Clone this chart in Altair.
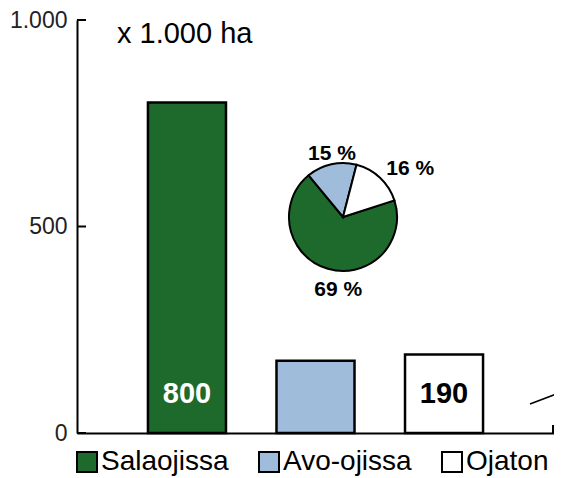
import math
import altair as alt
import pandas as pd

# ---- data ----
categories = ["Salaojissa", "Avo-ojissa", "Ojaton"]
area_1000ha = [800, 175, 190]
bar_labels = ["800", "", "190"]
shares_pct = [69, 15, 16]
share_labels = ["69 %", "15 %", "16 %"]
colors = ["#1e6a2c", "#9fbcdb", "#ffffff"]
y_ticks = [0, 500, 1000]
y_tick_labels = ["0", "500", "1.000"]
unit_title = ["x 1.000 ha"]

bars_df = pd.DataFrame({"category": categories, "area": area_1000ha, "label": bar_labels})
pie_df = pd.DataFrame({"category": categories, "share": shares_pct, "label": share_labels})
ticks_df = pd.DataFrame({"v": y_ticks})
title_df = pd.DataFrame({"t": unit_title})

FONT = "Liberation Sans"
W, H = 477, 413

label_expr = "''"
for v, lab in reversed(list(zip(y_ticks, y_tick_labels))):
    label_expr = f"datum.value == {v} ? '{lab}' : ({label_expr})"

y_axis = alt.Axis(values=y_ticks, labelExpr=label_expr, ticks=False, labelPadding=10,
                  labelFontSize=23, labelFont=FONT, labelColor="#222", domainColor="black",
                  domainWidth=2, grid=False, title=None)
x_axis = alt.Axis(labels=False, ticks=False, title=None, domainColor="black",
                  domainWidth=2, grid=False)
y_scale = alt.Scale(domain=[0, 1000], nice=False)
x_enc = alt.X("category:N", sort=categories,
              scale=alt.Scale(paddingInner=0.393, paddingOuter=0.552), axis=x_axis)

color_scale = alt.Scale(domain=categories, range=colors)
legend = alt.Legend(orient="none", legendX=-4, legendY=428, direction="horizontal",
                    title=None, symbolType="square", symbolSize=400,
                    symbolStrokeColor="black", symbolStrokeWidth=2, symbolOpacity=1,
                    labelFontSize=28, labelFont=FONT, labelColor="black", labelOffset=0,
                    columnPadding=26, padding=0, labelLimit=300)
color_enc = alt.Color("category:N", scale=color_scale, legend=legend)

bars = alt.Chart(bars_df).mark_bar(stroke="black", strokeWidth=2.5).encode(
    x=x_enc,
    y=alt.Y("area:Q", scale=y_scale, axis=y_axis),
    color=color_enc,
)

bar_text = alt.Chart(bars_df).transform_filter("datum.label != ''").mark_text(
    font=FONT, fontWeight="bold", fontSize=29, baseline="alphabetic", dy=-30
).encode(
    x=x_enc,
    y=alt.datum(0),
    text="label:N",
    color=alt.condition(alt.datum.category == "Salaojissa", alt.value("white"), alt.value("black")),
)

ticks = alt.Chart(ticks_df).mark_rule(color="black", strokeWidth=2).encode(
    y=alt.Y("v:Q", scale=y_scale, axis=y_axis),
    x=alt.value(0), x2=alt.value(9),
)

# small upward tick closing the x axis on the right, and the stray stroke at the right edge
end_tick = alt.Chart(title_df).mark_rule(color="black", strokeWidth=2).encode(
    x=alt.value(W - 1), y=alt.value(H), y2=alt.value(H - 8)
)
stray = alt.Chart(title_df).mark_rule(color="black", strokeWidth=1.5).encode(
    x=alt.value(453), x2=alt.value(490), y=alt.value(384), y2=alt.value(370)
)

a0 = math.radians(320.5)
theta_enc = alt.Theta("share:Q", stack=True, scale=alt.Scale(range=[a0, a0 + 2 * math.pi]))
order_enc = alt.Order("category:N", sort="ascending")
CX, CY, R = 266, 197, 54

arc = alt.Chart(pie_df).mark_arc(outerRadius=R, stroke="black", strokeWidth=2).encode(
    theta=theta_enc, order=order_enc, color=color_enc,
    x=alt.value(CX), y=alt.value(CY),
)

label_place = {"Salaojissa": (74, 16, 2), "Avo-ojissa": (65, 3, 0), "Ojaton": (82, 11, 12)}
pie_texts = []
for cat in categories:
    r, dx, dy = label_place[cat]
    pie_texts.append(
        alt.Chart(pie_df).mark_text(radius=r, dx=dx, dy=dy, font=FONT, fontWeight="bold",
                                    fontSize=21, color="black").encode(
            theta=theta_enc, order=order_enc,
            x=alt.value(CX), y=alt.value(CY),
            text=alt.condition(alt.datum.category == cat, alt.Text("label:N"), alt.value("")),
        )
    )

title_text = alt.Chart(title_df).mark_text(align="left", baseline="alphabetic", fontSize=29,
                                           font=FONT, color="black").encode(
    text="t:N", x=alt.value(40), y=alt.value(23)
)

chart = alt.layer(bars, bar_text, ticks, end_tick, stray, arc, *pie_texts, title_text).properties(
    width=W, height=H,
    padding={"left": 69, "top": 12, "right": 0, "bottom": 45},
    autosize=alt.AutoSizeParams(type="none"),
).configure_view(stroke=None)

chart.save("out.html", embed_options={"renderer": "svg", "actions": False})
